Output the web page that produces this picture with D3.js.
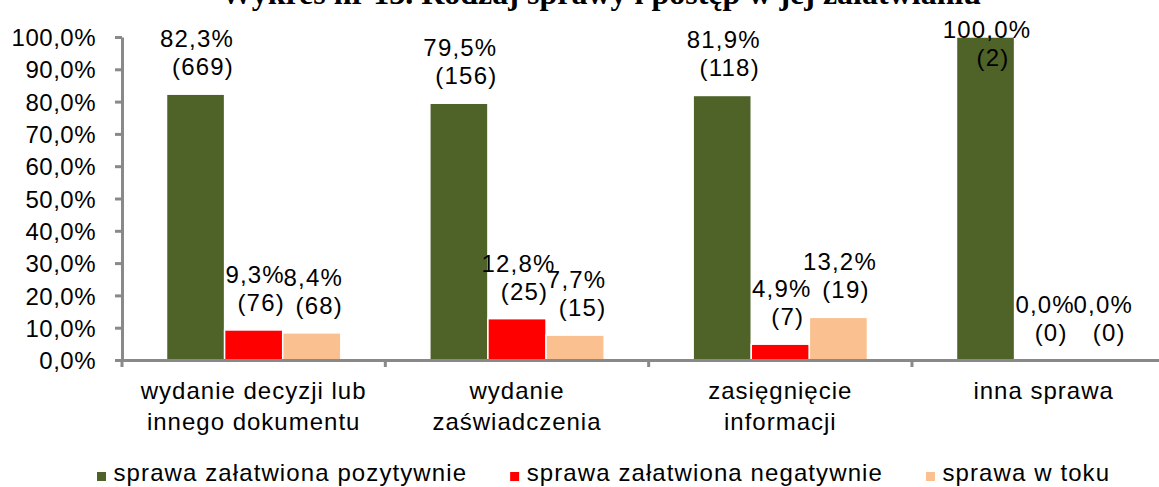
<!DOCTYPE html>
<html>
<head>
<meta charset="utf-8">
<script src="https://cdn.jsdelivr.net/npm/d3@7"></script>
<style>
  html, body { margin: 0; padding: 0; background: #fff; }
  svg { display: block; }
  text { font-family: "Liberation Sans", Arial, sans-serif; fill: #000; }
</style>
</head>
<body>
<svg id="chart" width="1159" height="487"></svg>
<script>
const title = "Wykres nr 13. Rodzaj sprawy i postęp w jej załatwianiu";
const categories = ["wydanie decyzji lub\ninnego dokumentu", "wydanie\nzaświadczenia", "zasięgnięcie\ninformacji", "inna sprawa"];
const seriesNames = ["sprawa załatwiona pozytywnie", "sprawa załatwiona negatywnie", "sprawa w toku"];
const pozytywnie = [82.3, 79.5, 81.9, 100.0];
const negatywnie = [9.3, 12.8, 4.9, 0.0];
const wToku = [8.4, 7.7, 13.2, 0.0];
const pozytywnieN = [669, 156, 118, 2];
const negatywnieN = [76, 25, 7, 0];
const wTokuN = [68, 15, 19, 0];
const yTicks = [0, 10, 20, 30, 40, 50, 60, 70, 80, 90, 100];
const colors = ["#4F6228", "#FF0000", "#FAC090"];

const seriesValues = [pozytywnie, negatywnie, wToku];
const seriesCounts = [pozytywnieN, negatywnieN, wTokuN];

const svg = d3.select("#chart");
const axisColor = "#898989";
const fontSize = 24;

const x0 = d3.scaleBand().domain(categories).range([122, 1175.3]).padding(0);
const x1 = d3.scaleBand().domain(seriesNames).range([44.5, x0.bandwidth() - 44.5]).padding(0);
const y = d3.scaleLinear().domain([0, 100]).range([360, 37]);
const fmt = v => d3.format(".1f")(v).replace(".", ",") + "%";

// Title (partly clipped at top, as in reference)
svg.append("text")
  .attr("x", 601).attr("y", 4)
  .attr("text-anchor", "middle")
  .style("font-family", '"Liberation Serif", "Times New Roman", serif')
  .style("font-weight", "bold")
  .style("font-size", "32px")
  .text(title);

// Bars
const rows = [];
categories.forEach((c, ci) => {
  seriesNames.forEach((s, si) => {
    rows.push({cat: c, ser: s, si, v: seriesValues[si][ci], n: seriesCounts[si][ci]});
  });
});

svg.append("g").selectAll("rect").data(rows).join("rect")
  .attr("x", d => x0(d.cat) + x1(d.ser))
  .attr("width", x1.bandwidth())
  .attr("y", d => y(d.v))
  .attr("height", d => y(0) - y(d.v))
  .attr("fill", d => colors[d.si])
  .attr("stroke", "#fff")
  .attr("stroke-width", 1.5);

// Y axis
const yAxis = svg.append("g")
  .attr("transform", "translate(122,0)")
  .call(d3.axisLeft(y).tickValues(yTicks).tickSize(7).tickSizeOuter(0).tickPadding(19).tickFormat(fmt));
yAxis.select(".domain").attr("stroke", axisColor).attr("stroke-width", 3);
yAxis.selectAll(".tick line").attr("stroke", axisColor).attr("stroke-width", 3);
yAxis.selectAll(".tick text")
  .attr("font-family", null).attr("font-size", null)
  .style("font-size", fontSize + "px")
  .style("letter-spacing", "0.5px")
  .attr("dy", "0.36em");
yAxis.attr("font-family", null).attr("font-size", null);

// X axis
const xAxis = svg.append("g")
  .attr("transform", "translate(0,360)")
  .call(d3.axisBottom(x0).tickSize(0).tickSizeOuter(0).tickFormat(""));
xAxis.select(".domain").attr("stroke", axisColor).attr("stroke-width", 3);
xAxis.selectAll(".tick").remove();
// boundary ticks between categories
xAxis.selectAll("line.bound").data(categories).join("line")
  .attr("class", "bound")
  .attr("x1", d => x0(d)).attr("x2", d => x0(d))
  .attr("y1", 0).attr("y2", 7)
  .attr("stroke", axisColor).attr("stroke-width", 3);

// Category labels
svg.append("g").selectAll("text").data(categories).join("text")
  .attr("text-anchor", "middle")
  .style("font-size", fontSize + "px")
  .style("letter-spacing", "1px")
  .each(function(d) {
    const t = d3.select(this);
    d.split("\n").forEach((line, i) => {
      t.append("tspan")
        .attr("x", x0(d) + x0.bandwidth() / 2)
        .attr("y", 399 + i * 31)
        .text(line);
    });
  });

// Data labels
const lbl = svg.append("g").selectAll("g").data(rows).join("g");
lbl.each(function(d) {
  const g = d3.select(this);
  const cx = x0(d.cat) + x1(d.ser) + x1.bandwidth() / 2;
  let l2 = y(d.v) - 19;
  let l1 = l2 - 28;
  if (l1 < 38) { l1 = 38; l2 = 66; }
  g.append("text")
    .attr("x", cx + 1.5).attr("y", l1)
    .attr("text-anchor", "middle")
    .style("font-size", fontSize + "px")
    .style("letter-spacing", "1.2px")
    .text(fmt(d.v));
  g.append("text")
    .attr("x", cx + 7.5).attr("y", l2)
    .attr("text-anchor", "middle")
    .style("font-size", fontSize + "px")
    .style("letter-spacing", "1.2px")
    .text("(" + d.n + ")");
});

// Legend
const legend = svg.append("g");
let lx = 97;
seriesNames.forEach((s, i) => {
  legend.append("rect")
    .attr("x", lx).attr("y", 472)
    .attr("width", 9).attr("height", 9)
    .attr("fill", colors[i]);
  const t = legend.append("text")
    .attr("x", lx + 16.5).attr("y", 481)
    .style("font-size", fontSize + "px")
    .style("letter-spacing", "1.1px")
    .text(s);
  const w = t.node().getComputedTextLength();
  lx = lx + 16.5 + w + 43;
});
</script>
</body>
</html>
